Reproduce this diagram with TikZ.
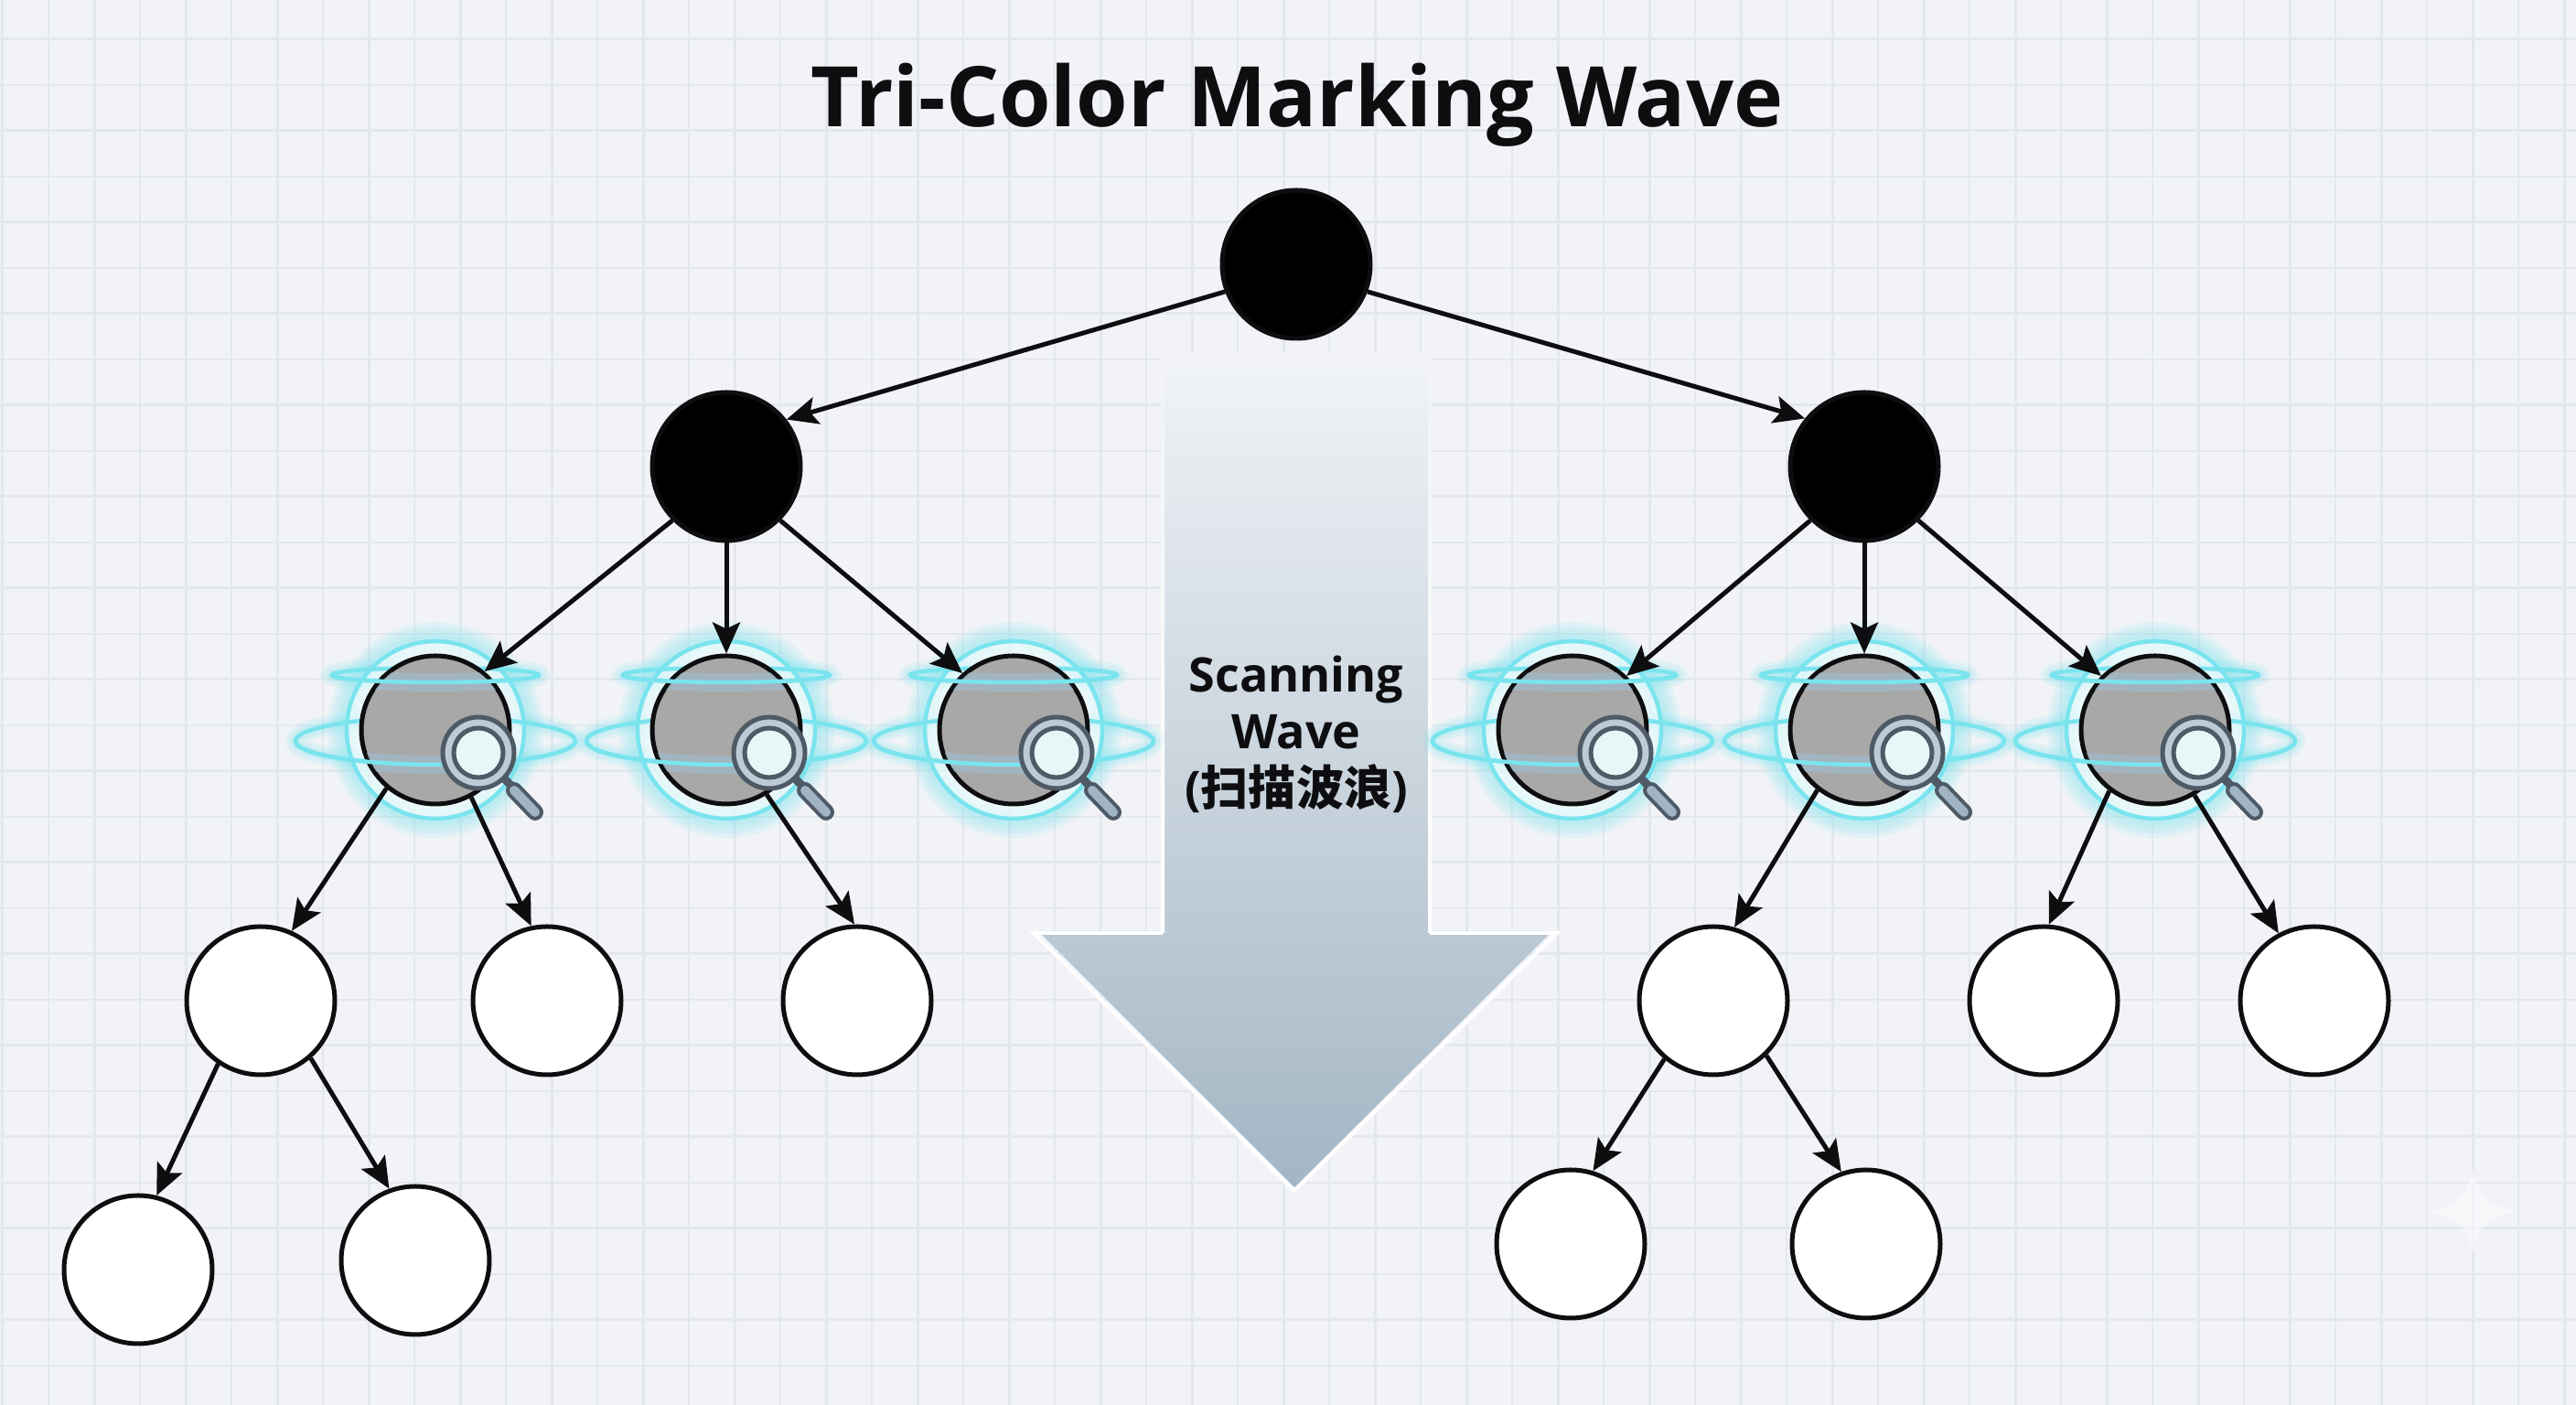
\documentclass[tikz,border=0pt]{standalone}
\usepackage{fontspec}
\setmainfont{Open Sans}
\newfontfamily\cjk{Noto Sans CJK SC}
\usetikzlibrary{arrows.meta, positioning, calc}
\definecolor{latarKertas}{RGB}{241,243,247}
\definecolor{garisKertas}{RGB}{228,232,237}
\definecolor{hitamTinta}{RGB}{14,14,16}
\definecolor{abuNode}{RGB}{168,168,166}
\definecolor{biruGlow}{RGB}{122,228,238}
\definecolor{biruPita}{RGB}{160,186,202}
\definecolor{biruPanah}{RGB}{163,182,196}
\definecolor{abuLensa}{RGB}{78,90,102}
\definecolor{biruGagang}{RGB}{160,180,196}
\definecolor{biruKaca}{RGB}{232,246,248}

\begin{document}
\begin{tikzpicture}[
  nodeMark/.style={circle, draw=hitamTinta, line width=0.05cm, minimum size=1.62cm, inner sep=0pt},
  nodeHitam/.style={nodeMark, fill=black},
  nodeAbu/.style={nodeMark, fill=abuNode},
  nodePutih/.style={nodeMark, fill=white},
  panah/.style={draw=hitamTinta, line width=0.05cm, -{Stealth[length=0.34cm, width=0.3cm, inset=0.07cm]}},
  glowC/.style={draw=biruGlow, opacity=0.13},
  garisC/.style={draw=biruGlow, line width=0.045cm},
]
  \useasboundingbox (0,0) rectangle (28.16,15.36);
  \fill[latarKertas] (0,0) rectangle (28.16,15.36);
  \begin{scope}
    \clip (0,0) rectangle (28.16,15.36);
    \draw[garisKertas, line width=0.02cm, shift={(0.03,0.43)}, step=0.5cm] (-1,-1) grid (29,16);
    \draw[garisKertas, line width=0.03cm, shift={(0.03,0.93)}, step=1cm] (-1,-1) grid (29,16);
  \end{scope}

  \node[font=\fontsize{26}{30}\selectfont\bfseries, text=hitamTinta] (judul) at (14.18,14.21) {Tri-Color Marking Wave};

  \shade[top color=latarKertas, bottom color=biruPanah] (12.73,11.5) -- (15.61,11.5) -- (15.61,5.18)
    -- (16.97,5.18) -- (14.15,2.38) -- (11.35,5.18) -- (12.73,5.18) -- cycle;
  \shade[top color=latarKertas, bottom color=white] (12.69,11.5) rectangle (12.73,5.16);
  \shade[top color=latarKertas, bottom color=white] (15.61,11.5) rectangle (15.65,5.16);
  \draw[white, line width=0.04cm] (12.71,5.16) -- (11.3,5.16) -- (14.15,2.34) -- (17.02,5.16) -- (15.63,5.16);
  \node[font=\fontsize{14.8}{17.6}\selectfont\bfseries, text=hitamTinta, align=center] (labelWave) at (14.17,7.33)
    {Scanning\\Wave\\({\cjk 扫描波浪})};

  \node[nodeHitam] (root) at (14.17,12.47) {};
  \node[nodeHitam] (h1) at (7.94,10.26) {};
  \node[nodeHitam] (h2) at (20.38,10.26) {};

  \foreach \n/\x in {g1/4.76, g2/7.94, g3/11.08, g4/17.19, g5/20.38, g6/23.56} {
    \begin{scope}[shift={(\x,7.38)}]
      \foreach \w in {0.42,0.33,0.24,0.15} {
        \draw[glowC, line width=\w cm] (0,0) circle[radius=0.97];
      }
      \foreach \w in {0.22,0.15,0.09} {
        \draw[glowC, line width=\w cm] (0,0.6) ellipse[x radius=1.13, y radius=0.08]
          (0,-0.12) ellipse[x radius=1.53, y radius=0.26];
      }
      \fill[white, opacity=0.6] (0,0) circle[radius=0.95];
      \draw[garisC] (0,0) circle[radius=0.97]
        (0,0.6) ellipse[x radius=1.13, y radius=0.08]
        (0,-0.12) ellipse[x radius=1.53, y radius=0.26];
      \node[nodeAbu] (\n) at (0,0) {};
      \begin{scope}
        \clip (0,0) circle[radius=0.79];
        \draw[biruPita, line width=0.2cm, opacity=0.7] (-1.13,0.6) arc[start angle=180, end angle=360, x radius=1.13, y radius=0.08];
        \draw[biruPita, line width=0.2cm, opacity=0.7] (-1.53,-0.12) arc[start angle=180, end angle=360, x radius=1.53, y radius=0.26];
      \end{scope}
      \draw[garisC] (-1.13,0.6) arc[start angle=180, end angle=360, x radius=1.13, y radius=0.08];
      \draw[garisC] (-1.53,-0.12) arc[start angle=180, end angle=360, x radius=1.53, y radius=0.26];
      \draw[abuLensa, line width=0.09cm] (0.72,-0.5) -- (0.86,-0.64);
      \draw[abuLensa, line width=0.18cm, line cap=round] (0.86,-0.66) -- (1.09,-0.9);
      \draw[biruGagang, line width=0.1cm, line cap=round] (0.86,-0.66) -- (1.09,-0.9);
      \draw[abuLensa, line width=0.05cm, fill=biruGagang!70!white] (0.47,-0.25) circle[radius=0.39];
      \draw[abuLensa, line width=0.05cm, fill=biruKaca] (0.47,-0.25) circle[radius=0.27];
    \end{scope}
  }

  \node[nodePutih] (p1) at (2.85,4.42) {};
  \node[nodePutih] (p2) at (5.98,4.42) {};
  \node[nodePutih] (p3) at (9.37,4.42) {};
  \node[nodePutih] (p4) at (18.73,4.42) {};
  \node[nodePutih] (p5) at (22.34,4.42) {};
  \node[nodePutih] (p6) at (25.3,4.42) {};
  \node[nodePutih] (d1) at (1.51,1.48) {};
  \node[nodePutih] (d2) at (4.54,1.58) {};
  \node[nodePutih] (d3) at (17.17,1.76) {};
  \node[nodePutih] (d4) at (20.4,1.76) {};

  \draw[panah] (root.201) -- (h1.38);
  \draw[panah] (root.339) -- (h2.141);
  \draw[panah] (h1.225) -- (g1.50);
  \draw[panah] (h1.270) -- (g2.90);
  \draw[panah] (h1.315) -- (g3.132);
  \draw[panah] (h2.225) -- (g4.45);
  \draw[panah] (h2.270) -- (g5.90);
  \draw[panah] (h2.315) -- (g6.135);
  \draw[panah] (g1.230) -- (p1.66);
  \draw[panah] (g1.298) -- (p2.102);
  \draw[panah] (g2.302) -- (p3.92);
  \draw[panah] (g5.232) -- (p4.74);
  \draw[panah] (g6.233) -- (p5.86);
  \draw[panah] (g6.301) -- (p6.118);
  \draw[panah] (p1.236) -- (d1.76);
  \draw[panah] (p1.311) -- (d2.110);
  \draw[panah] (p4.230) -- (d3.73);
  \draw[panah] (p4.314) -- (d4.109);

  \fill[white, opacity=0.45] (27.03,2.6) .. controls (27.09,2.25) and (27.2,2.18) .. (27.51,2.12)
    .. controls (27.2,2.06) and (27.09,1.99) .. (27.03,1.64)
    .. controls (26.97,1.99) and (26.86,2.06) .. (26.55,2.12)
    .. controls (26.86,2.18) and (26.97,2.25) .. (27.03,2.6) -- cycle;
\end{tikzpicture}
\end{document}
